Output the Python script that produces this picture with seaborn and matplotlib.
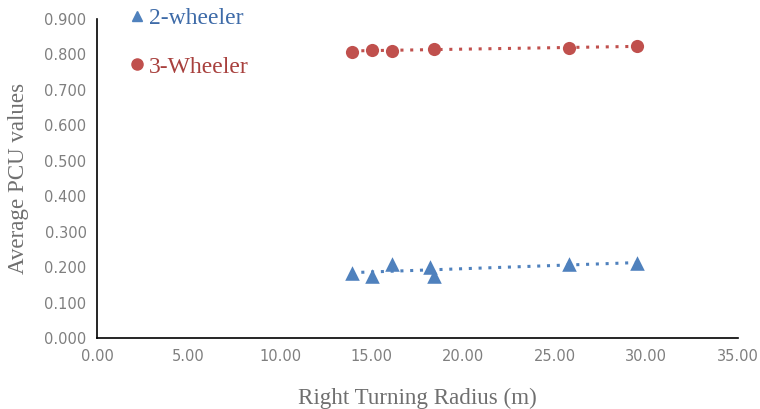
import numpy as np
import pandas as pd
import seaborn as sns
import matplotlib
matplotlib.use("Agg")
import matplotlib.pyplot as plt
from matplotlib.lines import Line2D

# Data
x_2w = [13.9, 15.0, 16.1, 18.2, 18.4, 25.8, 29.5]
y_2w = [0.182, 0.176, 0.210, 0.200, 0.175, 0.208, 0.212]
x_3w = [13.9, 15.0, 16.1, 18.4, 25.8, 29.5]
y_3w = [0.808, 0.813, 0.811, 0.815, 0.819, 0.823]
series_names = ["2-wheeler", "3-Wheeler"]
x_ticks = [0, 5, 10, 15, 20, 25, 30, 35]
y_ticks = [0.0, 0.1, 0.2, 0.3, 0.4, 0.5, 0.6, 0.7, 0.8, 0.9]

blue = "#4F81BD"
red = "#C0504D"

sns.set_theme(style="white")
plt.rcParams["font.family"] = ["DejaVu Sans"]

df2 = pd.DataFrame({"x": x_2w, "y": y_2w})
df3 = pd.DataFrame({"x": x_3w, "y": y_3w})

fig = plt.figure(figsize=(7.6, 4.09), dpi=100)
ax = fig.add_axes([0.1276, 0.1736, 0.971 - 0.1276, 0.9535 - 0.1736])

sns.scatterplot(data=df2, x="x", y="y", marker="^", color=blue, s=110,
                linewidth=0, ax=ax, legend=False, zorder=3)
sns.scatterplot(data=df3, x="x", y="y", marker="o", color=red, s=90,
                linewidth=0, ax=ax, legend=False, zorder=3)

# Linear trendlines
for xs, ys, c in [(x_2w, y_2w, blue), (x_3w, y_3w, red)]:
    p = np.polyfit(xs, ys, 1)
    xx = np.array([min(xs), max(xs)])
    ax.plot(xx, np.polyval(p, xx), linestyle=(0, (1, 2.2)), color=c, lw=2.2, zorder=2)

ax.set_xlim(0, 35)
ax.set_ylim(0, 0.9)
ax.set_xticks(x_ticks)
ax.set_yticks(y_ticks)
ax.set_xticklabels([f"{v:.2f}" for v in x_ticks])
ax.set_yticklabels([f"{v:.3f}" for v in y_ticks])
ax.tick_params(axis="both", colors="black", labelcolor="#7f7f7f", labelsize=10.5,
               direction="inout", length=8, width=1.2)
ax.tick_params(axis="x", pad=4)
for side in ["top", "right"]:
    ax.spines[side].set_visible(False)
for side in ["left", "bottom"]:
    ax.spines[side].set_color("black")
    ax.spines[side].set_linewidth(1.2)

ax.set_xlabel("Right Turning Radius (m)", family="Liberation Serif", fontsize=16.6,
              color="#6f6f6f", labelpad=17)
ax.set_ylabel("Average PCU values", family="Liberation Serif", fontsize=16.6,
              color="#6f6f6f", labelpad=11)

handles = [Line2D([], [], marker="^", color=blue, linestyle="none", markersize=7.5),
           Line2D([], [], marker="o", color=red, linestyle="none", markersize=8)]
leg = ax.legend(handles, series_names, loc="upper left", bbox_to_anchor=(0.051, 1.035),
                frameon=False, prop={"family": "Liberation Serif", "size": 17},
                borderpad=0, borderaxespad=0,
                handlelength=0.6, handletextpad=0.2, labelspacing=1.13)
leg.get_texts()[0].set_color("#3E6BA8")
leg.get_texts()[1].set_color("#A8403D")

fig.savefig("out.png", dpi=100)
